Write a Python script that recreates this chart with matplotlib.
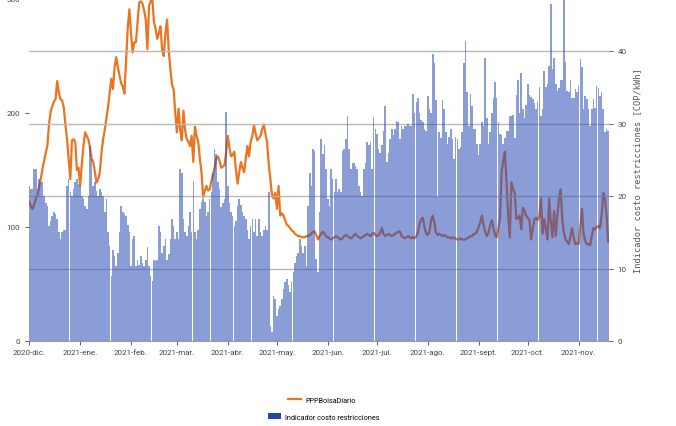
import matplotlib
matplotlib.use('Agg')
import matplotlib.pyplot as plt
from matplotlib.lines import Line2D
from matplotlib.patches import Patch
import pandas as pd

start = '2020-12-01'

ppp_bolsa = [
    122, 118, 116, 120, 125, 128, 136, 142, 151, 158,
    165, 171, 190, 201, 206, 210, 212, 228, 218, 212,
    211, 205, 190, 177, 160, 142, 176, 177, 175, 150,
    152, 136, 155, 171, 183, 180, 177, 170, 160, 157,
    148, 139, 142, 148, 165, 177, 185, 195, 205, 218,
    230, 221, 240, 249, 240, 233, 226, 223, 217, 245,
    274, 291, 270, 253, 262, 262, 280, 297, 298, 296,
    290, 282, 256, 294, 298, 300, 280, 274, 265, 270,
    276, 255, 250, 270, 282, 255, 239, 225, 221, 200,
    183, 204, 185, 176, 202, 185, 177, 175, 171, 180,
    157, 188, 180, 175, 160, 148, 126, 132, 136, 132,
    133, 140, 146, 152, 160, 162, 158, 152, 153, 154,
    165, 180, 170, 162, 163, 166, 150, 138, 148, 157,
    152, 148, 160, 171, 162, 175, 180, 189, 182, 176,
    178, 180, 186, 190, 182, 174, 155, 142, 128, 125,
    130, 116, 136, 110, 112, 110, 106, 102, 101, 99,
    97, 96, 94, 93, 92, 92, 91, 91, 91, 92,
    92, 93, 94, 96, 96, 93, 89, 92, 94, 96,
    94, 92, 91, 90, 89, 90, 91, 92, 91, 90,
    89, 90, 92, 93, 92, 91, 90, 91, 93, 94,
    92, 91, 90, 91, 92, 93, 94, 93, 92, 94,
    95, 93, 92, 93, 95, 99, 94, 92, 93, 94,
    93, 92, 93, 94, 95, 96, 96, 92, 91, 90,
    91, 92, 91, 90, 91, 90, 92, 95, 103, 107,
    108, 100, 94, 93, 96, 106, 110, 104, 95, 93,
    94, 93, 92, 93, 92, 91, 91, 90, 91, 90,
    90, 89, 89, 90, 89, 89, 89, 90, 91, 92,
    92, 94, 94, 96, 100, 104, 110, 102, 96, 92,
    95, 101, 106, 99, 93, 91, 99, 107, 148, 158,
    166, 140, 110, 91, 139, 134, 130, 107, 108, 110,
    98, 117, 114, 110, 108, 106, 89, 98, 107, 108,
    106, 110, 125, 94, 107, 98, 89, 125, 105, 91,
    114, 92, 110, 125, 133, 107, 95, 89, 87, 85,
    92, 99, 90, 85, 86, 85, 100, 116, 94, 88,
    85, 85, 84, 92, 99, 98, 100, 101, 99, 110,
    130, 125, 110, 87,
]

costo_restricciones = [
    21.4, 21, 21, 23.7, 23.7, 21, 22.3, 21.9, 21.9, 20,
    19, 18.6, 15.9, 16.5, 17.3, 17.8, 17.5, 16.8, 15, 14.1,
    15, 15.3, 15.3, 21.4, 22.3, 20.5, 20, 21, 21.9, 22.3,
    21.7, 21.4, 20, 19.6, 18.6, 18.2, 20, 26.9, 25.1, 21.4,
    21.9, 20.7, 20, 21, 20.5, 20, 17.8, 19.6, 15, 13.1,
    9, 12.6, 11.7, 10.3, 12.2, 15, 18.6, 17.8, 17.5, 17.3,
    16, 15, 10.3, 14.1, 14.5, 10.3, 11.2, 10.5, 11.7, 10.8,
    10.3, 11.2, 12.9, 10.3, 9, 8.3, 11.2, 11, 11.2, 15.9,
    15, 12.2, 13.1, 14.1, 11.2, 12, 14.1, 16.8, 15.9, 14.1,
    15, 14.1, 23.7, 23.2, 16.8, 15, 14.5, 15.9, 17.8, 15,
    22.1, 15, 14.1, 15.3, 18.2, 19.2, 19.6, 19.2, 17.3, 17.8,
    19.6, 20.5, 23.2, 26.5, 25.8, 21.9, 21, 18.5, 19, 19.6,
    31.6, 21.4, 19, 17.8, 17.3, 15.9, 16.5, 18.6, 19.6, 18.8,
    17.8, 17.3, 16.8, 15.3, 14.1, 15.9, 16.8, 15, 16.8, 14.5,
    16.8, 15, 14.5, 15.3, 15.9, 15.3, 20.5, 2.1, 1.2, 6.2,
    5.8, 3.4, 4.4, 4.8, 5.8, 7.2, 8.1, 8.6, 7.7, 6.8,
    8.1, 9.5, 10.8, 11.7, 12.2, 14.1, 13.1, 12.2, 13.1, 10.3,
    18.6, 23.2, 21.4, 26.5, 26.2, 11.3, 9.5, 17.8, 27.9, 25.8,
    27, 23.7, 19.6, 18.6, 23.7, 22.3, 20.5, 22.3, 20.5, 21,
    20.5, 26.2, 26.5, 27.9, 31, 26.5, 23.7, 24.6, 24.6, 24.2,
    23.7, 21.4, 20.5, 20, 23.7, 24.6, 27.4, 27, 27.4, 23.7,
    30.9, 29.3, 28.6, 26.5, 26, 27, 29, 32.4, 24.7, 26,
    27.9, 29.3, 28.4, 29.3, 30.4, 30.2, 27.9, 29.7, 29.3, 29.7,
    29.7, 30, 29.7, 29.7, 34.1, 31.4, 33, 33.5, 31.5, 30.5,
    30.2, 29.3, 29, 33.8, 32, 31.5, 39.6, 38.4, 33.2, 19.8,
    28.8, 28, 33.2, 32, 28.8, 27.2, 28.2, 29.3, 27.9, 25.1,
    28.2, 27.9, 26.5, 26.7, 28.8, 38.4, 41.4, 34.3, 29.7, 34.1,
    32.4, 29.3, 29.3, 27.2, 25.6, 27.2, 30.2, 29.7, 39.1, 30.7,
    27.2, 28.8, 31.4, 33.5, 35.7, 33.5, 30.2, 28.6, 28.4, 27.2,
    28, 29, 29, 31, 31, 31.2, 28, 34, 36, 31.5,
    37, 32, 30.7, 32.5, 35.5, 34, 33.7, 33.4, 32.8, 32,
    33, 35, 31, 32, 37.3, 35, 35.5, 38, 46.5, 37.5,
    39, 35.5, 34.5, 34.9, 36, 36, 47.5, 38.5, 34.5, 34.3,
    36, 33.5, 33.5, 34.7, 34.3, 35.2, 38.9, 37.8, 32, 33.8,
    33.4, 32, 29.7, 32, 33.4, 32.2, 35.2, 34.9, 33.8, 34.3,
    32, 28.8, 29.3, 29,
]

month_labels = ['2020-dic.', '2021-ene.', '2021-feb.', '2021-mar.', '2021-abr.', '2021-may.',
                '2021-jun.', '2021-jul.', '2021-ago.', '2021-sept.', '2021-oct.', '2021-nov.']

dates = pd.date_range(start, periods=len(ppp_bolsa), freq='D')
month_ticks = pd.date_range(start, periods=len(month_labels), freq='MS')

plt.rcParams['font.family'] = ['Roboto', 'DejaVu Sans']

fig = plt.figure(figsize=(6.76, 4.27), dpi=100)
ax = fig.add_axes([28.5 / 676, 85 / 427, (609 - 28.5) / 676, 342 / 427])
ax2 = ax.twinx()

orange = '#ec7420'
bar_blue = '#2a4db5'

# line behind, semi-transparent bars on top (gives the brownish line under the bars)
ax.plot(dates, ppp_bolsa, color=orange, lw=1.6, zorder=2)
ax2.bar(dates, costo_restricciones, width=0.97, color=bar_blue, alpha=0.55, linewidth=0, zorder=3)

ax.set_ylim(0, 300)
ax2.set_ylim(0, 342 / 7.25)
ax.set_xlim(dates[0] - pd.Timedelta(hours=12), dates[-1] + pd.Timedelta(hours=12))

ax.set_yticks([0, 100, 200, 300])
ax2.set_yticks([0, 10, 20, 30, 40])
ax2.set_axisbelow(True)
ax2.yaxis.grid(True, color='#b8b8b8', lw=1.0, zorder=0)

ax.set_xticks(month_ticks)
ax.set_xticklabels(month_labels)

for a in (ax, ax2):
    for s in ('top', 'left', 'right'):
        a.spines[s].set_visible(False)
    a.spines['bottom'].set_color('#999999')
    a.spines['bottom'].set_linewidth(0.6)
ax.tick_params(axis='x', labelsize=5.8, colors='#444444', length=3, width=0.6, pad=3)
ax.tick_params(axis='y', labelsize=5.8, colors='#444444', length=3, width=0.6, pad=3)
ax2.tick_params(axis='y', labelsize=5.8, colors='#444444', length=3, width=0.6, pad=3)

ax2.set_ylabel('Indicador costo restricciones [COP/kWh]', family='DejaVu Sans Mono',
               fontsize=6.2, color='#555555', labelpad=5)

h1 = Line2D([0], [0], color=orange, lw=1.6)
h2 = Patch(facecolor='#2545a8')
fig.legend([h1], ['PPPBolsaDiario'], loc='center', bbox_to_anchor=(322 / 676, 1 - 401 / 427),
           frameon=False, fontsize=5.2, handlelength=1.8, handletextpad=0.6)
fig.legend([h2], ['Indicador costo restricciones'], loc='center', bbox_to_anchor=(324 / 676, 1 - 418 / 427),
           frameon=False, fontsize=5.2, handlelength=1.8, handletextpad=0.6)

fig.savefig('out.png', dpi=100)
